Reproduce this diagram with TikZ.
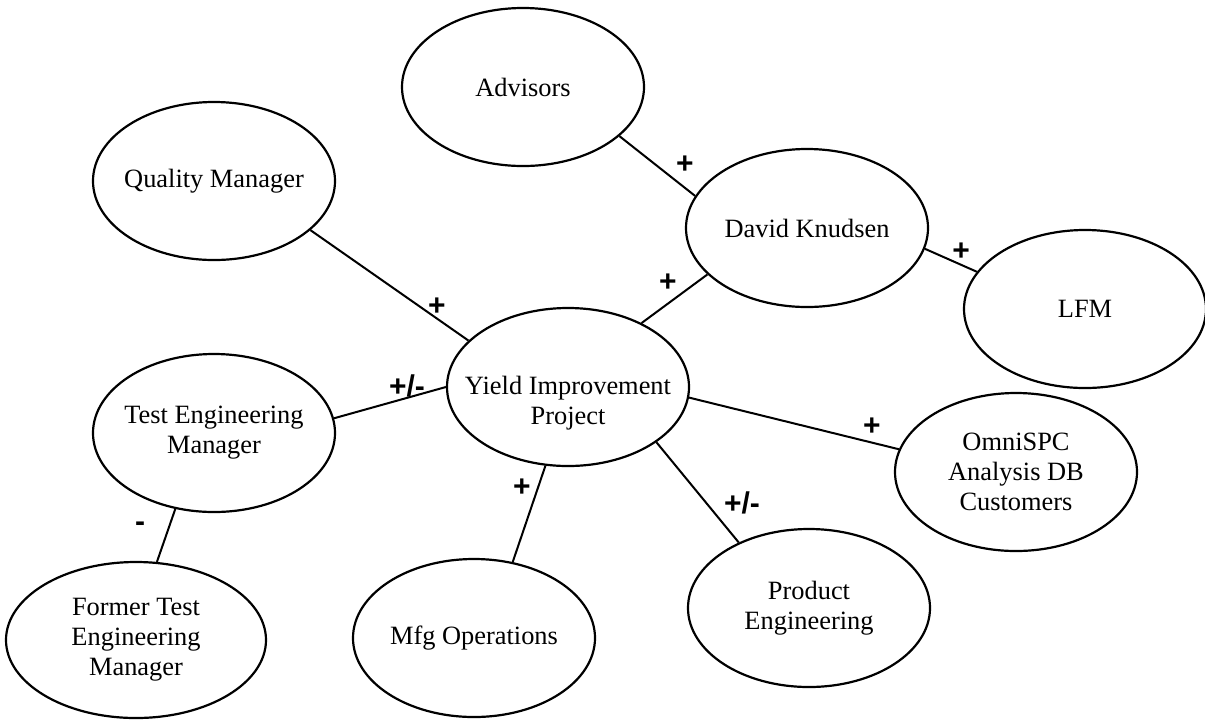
\documentclass[tikz,border=0pt]{standalone}
\usepackage{fontspec}
\setmainfont{Liberation Serif}
\newfontfamily\labelfont{Liberation Sans}
\usetikzlibrary{shapes.geometric}

\tikzset{
  party/.style={ellipse, draw=black, line width=1.1pt,
    inner xsep=-14pt, inner ysep=0pt,
    minimum width=121pt, minimum height=79pt, align=center,
    font=\fontsize{13.2pt}{15pt}\selectfont},
  wide/.style={minimum width=130pt, minimum height=78pt},
  tie/.style={draw=black, line width=1pt},
  sign/.style={inner sep=0pt, font=\labelfont\bfseries\fontsize{15pt}{15pt}\selectfont}
}

\begin{document}
\begin{tikzpicture}[x=0.5pt, y=-0.5pt]
  \useasboundingbox (0,0) rectangle (1205,719);

  % stakeholders
  \node[party] (adv)    at (523,87)   {Advisors};
  \node[party] (qm)     at (214,181)  {Quality Manager};
  \node[party] (dk)     at (807,228)  {David Knudsen};
  \node[party] (lfm)    at (1085,309) {LFM};
  % the project's text sits a little below the ellipse's centre
  \node[party] (yip)    at (568,387)
    {\raisebox{-11pt}[0pt][0pt]{\begin{tabular}{@{}c@{}}Yield Improvement\\Project\end{tabular}}};
  \node[party] (tem)    at (214,433)  {Test Engineering\\Manager};
  \node[party] (omni)   at (1016,472) {OmniSPC\\Analysis DB\\Customers};
  \node[party] (prod)   at (809,608)  {Product\\Engineering};
  \node[party] (mfg)    at (474,638)  {Mfg Operations};
  \node[party, wide] (former) at (136,640) {Former Test\\Engineering\\Manager};

  % relationships
  \draw[tie] (adv.-27)  -- (dk.164.5);
  \draw[tie] (dk.-10)   -- (lfm.161);
  \draw[tie] (dk.-155)  -- (yip.41);
  \draw[tie] (qm.-27)   -- (yip.155);
  \draw[tie] (tem.7)    -- (yip.180);
  \draw[tie] (yip.-5)   -- (omni.169);
  \draw[tie] (yip.-32)  -- (prod.137.5);
  \draw[tie] (yip.-106) -- (mfg.63.4);
  \draw[tie] (tem.-117) -- (former.75);

  % attitude signs
  \node[sign] (s-adv)    at (685,165) {+};
  \node[sign] (s-lfm)    at (961,252) {+};
  \node[sign] (s-dk)     at (668,283) {+};
  \node[sign] (s-qm)     at (437,307) {+};
  \node[sign] (s-tem)    at (407,386) {+/-};
  \node[sign] (s-omni)   at (872,427) {+};
  \node[sign] (s-prod)   at (742,503) {+/-};
  \node[sign] (s-mfg)    at (522,488) {+};
  \node[sign] (s-former) at (140,527) {-};
\end{tikzpicture}
\end{document}
